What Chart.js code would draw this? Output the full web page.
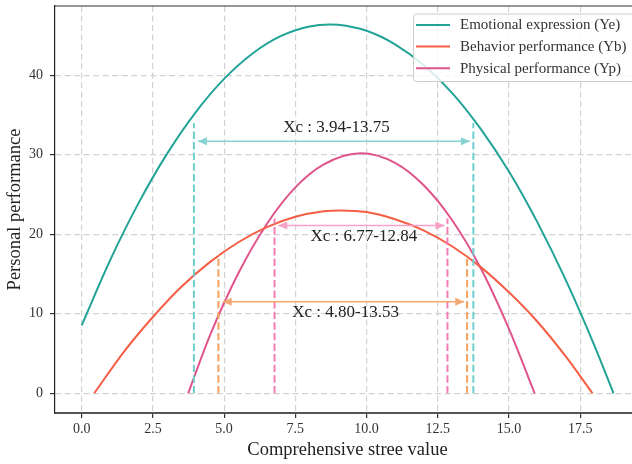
<!DOCTYPE html>
<html><head><meta charset="utf-8">
<script src="https://cdn.jsdelivr.net/npm/chart.js@4/dist/chart.umd.min.js"></script>
<style>html,body{margin:0;padding:0;overflow:hidden;background:#fff;width:632px;height:464px}canvas{display:block}</style>
</head><body><canvas id="c" width="650" height="464"></canvas>
<script>
// ---- data ----
const xTicks = [0, 2.5, 5, 7.5, 10, 12.5, 15, 17.5];
const yTicks = [0, 10, 20, 30, 40];
const seriesNames = ['Emotional expression (Ye)', 'Behavior performance (Yb)', 'Physical performance (Yp)'];

const yeX = [0, 1, 2, 3, 4, 5, 6, 7, 8, 8.7, 9, 10, 11, 12, 13, 14, 15, 16, 17, 18, 18.67];
const yeY = [8.55, 16.75, 23.95, 30.15, 35.35, 39.55, 42.75, 44.95, 46.15, 46.4, 46.36, 45.6, 43.9, 41.3, 37.8, 33.3, 27.9, 21.5, 14.2, 6.0, 0];

const ybX = [0.44, 1.5, 2.5, 3.5, 4.5, 5.5, 6.5, 7.5, 8.5, 9.1, 10, 11, 12, 13, 14, 15, 16, 17, 17.93];
const ybY = [0, 5.3, 9.6, 13.4, 16.5, 19.0, 20.9, 22.2, 22.9, 23.0, 22.8, 21.9, 20.5, 18.5, 15.9, 12.7, 9.0, 4.6, 0];

const ypX = [3.74, 4.5, 5.5, 6.5, 7.5, 8.5, 9.8, 11, 12, 13, 14, 15, 15.9];
const ypY = [0, 7.25, 15.1, 21.3, 25.9, 28.8, 30.2, 29.0, 26.2, 21.8, 15.8, 8.1, 0];

// critical intervals (Ye, Yb, Yp)
const xcLow = [3.94, 4.80, 6.77];
const xcHigh = [13.75, 13.53, 12.84];
const markerTop = [34.0, 17.4, 22.0];
const arrowY = [31.7, 11.5, 21.1];
const arrowFrom = [4.08, 4.95, 6.90];
const arrowTo = [13.63, 13.43, 12.74];
const labelY = [33.4, 10.2, 19.7];

// ---- styles ----
const curveColors = ['#22a398', '#f65d45', '#e0548c'];
const markerColors = ['#6fcfcf', '#f7a25e', '#f47db6'];
const arrowColors = ['#86d3d3', '#f6a873', '#f7a0c8'];
const FONT = "'Liberation Serif', 'Times New Roman', serif";

const pts = (xs, ys) => xs.map((x, i) => ({x, y: ys[i]}));
const datasets = [];
[[yeX, yeY], [ybX, ybY], [ypX, ypY]].forEach(([xs, ys], i) => {
  datasets.push({label: seriesNames[i], data: pts(xs, ys), borderColor: curveColors[i], borderWidth: 2,
    showLine: true, pointRadius: 0, cubicInterpolationMode: 'monotone', order: 2});
});
xcLow.forEach((lo, i) => {
  [lo, xcHigh[i]].forEach(x => {
    datasets.push({label: '_m', data: [{x, y: 0}, {x, y: markerTop[i]}], borderColor: markerColors[i],
      borderWidth: 2, borderDash: [7.4, 3.2], showLine: true, pointRadius: 0, order: 1});
  });
  datasets.push({label: '_a', data: [{x: arrowFrom[i], y: arrowY[i]}, {x: arrowTo[i], y: arrowY[i]}],
    borderColor: arrowColors[i], borderWidth: 1.5, showLine: true, pointRadius: 0, order: 1});
});

const overlay = {
  id: 'overlay',
  afterDatasetsDraw(chart) {
    const {ctx, scales: {x, y}, chartArea: ca} = chart;
    ctx.save();
    xcLow.forEach((lo, i) => {
      const py = y.getPixelForValue(arrowY[i]);
      const heads = [[x.getPixelForValue(arrowFrom[i]), 1], [x.getPixelForValue(arrowTo[i]), -1]];
      ctx.fillStyle = arrowColors[i];
      heads.forEach(([px, dir]) => {
        ctx.beginPath();
        ctx.moveTo(px, py);
        ctx.lineTo(px + dir * 9, py - 4);
        ctx.lineTo(px + dir * 9, py + 4);
        ctx.closePath();
        ctx.fill();
      });
      ctx.fillStyle = '#222';
      ctx.font = '17px ' + FONT;
      ctx.textAlign = 'center';
      ctx.textBaseline = 'middle';
      ctx.fillText('Xc : ' + lo.toFixed(2) + '-' + xcHigh[i].toFixed(2),
        x.getPixelForValue((lo + xcHigh[i]) / 2 + 0.1), y.getPixelForValue(labelY[i]));
    });
    ctx.strokeStyle = '#333';
    ctx.lineWidth = 1.2;
    ctx.beginPath(); ctx.moveTo(ca.left, ca.top); ctx.lineTo(ca.right, ca.top); ctx.stroke();
    const lx = 413, ly = 13.5, lw = 240, lh = 67.5;
    ctx.fillStyle = 'rgba(255,255,255,0.82)';
    ctx.strokeStyle = '#cccccc';
    ctx.lineWidth = 1;
    ctx.beginPath();
    ctx.roundRect(lx + 0.5, ly + 0.5, lw, lh, 3);
    ctx.fill(); ctx.stroke();
    ctx.font = '15px ' + FONT;
    ctx.textAlign = 'left';
    ctx.textBaseline = 'middle';
    seriesNames.forEach((n, i) => {
      const yy = 25 + i * 21.6;
      ctx.strokeStyle = curveColors[i];
      ctx.lineWidth = 2;
      ctx.beginPath(); ctx.moveTo(416, yy); ctx.lineTo(450, yy); ctx.stroke();
      ctx.fillStyle = '#333';
      ctx.fillText(n, 460, yy + 0.5);
    });
    ctx.restore();
  }
};

const gridCommon = {color: '#d2d2d2', lineWidth: 1.2, tickLength: 5,
  tickColor: '#333', tickWidth: 1.2, tickBorderDash: []};

new Chart(document.getElementById('c'), {
  type: 'scatter',
  data: {datasets},
  plugins: [overlay],
  options: {
    responsive: false, animation: false, devicePixelRatio: 1,
    layout: {padding: {left: 0, right: 10, top: 6, bottom: 0}},
    plugins: {legend: {display: false}, tooltip: {enabled: false}},
    scales: {
      x: {type: 'linear', min: -0.937, max: 19.6,
        afterBuildTicks: s => { s.ticks = xTicks.map(v => ({value: v})); },
        afterFit: s => { s.height = 51; s.paddingLeft = 0; s.paddingRight = 0; },
        grid: gridCommon,
        border: {display: true, color: '#555', width: 2, dash: [6, 3.5]},
        ticks: {color: '#333', font: {family: FONT, size: 14}, padding: 3, maxRotation: 0,
          callback: v => Number(v).toFixed(1)},
        title: {display: true, text: 'Comprehensive stree value', color: '#222',
          font: {family: FONT, size: 18.5}, padding: {top: 0, bottom: 3}}
      },
      y: {type: 'linear', min: -2.48, max: 48.72,
        afterBuildTicks: s => { s.ticks = yTicks.map(v => ({value: v})); },
        afterFit: s => { s.width = 55; s.paddingTop = 0; s.paddingBottom = 0; },
        grid: gridCommon,
        border: {display: true, color: '#222', width: 1.2, dash: [6, 3.5]},
        ticks: {color: '#333', font: {family: FONT, size: 14}, padding: 7},
        title: {display: true, text: 'Personal performance', color: '#222',
          font: {family: FONT, size: 18.5}, padding: {top: 4.5, bottom: 0}}
      }
    }
  }
});
</script></body></html>
